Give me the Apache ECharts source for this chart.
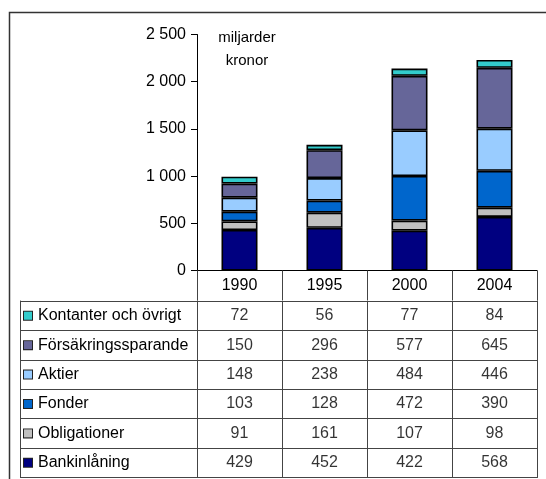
<!DOCTYPE html>
<html>
<head>
<meta charset="utf-8">
<script src="https://cdn.jsdelivr.net/npm/echarts@6/dist/echarts.min.js"></script>
<style>
  html, body { margin: 0; padding: 0; background: #fff; }
  #main { width: 546px; height: 479px; }
</style>
</head>
<body>
<div id="main"></div>
<script>
// data (miljarder kronor)
var years = ['1990', '1995', '2000', '2004'];
var seriesNames = ['Bankinlåning', 'Obligationer', 'Fonder', 'Aktier', 'Försäkringssparande', 'Kontanter och övrigt'];
var bankinlaning = [429, 452, 422, 568];
var obligationer = [91, 161, 107, 98];
var fonder = [103, 128, 472, 390];
var aktier = [148, 238, 484, 446];
var forsakring = [150, 296, 577, 645];
var kontanter = [72, 56, 77, 84];
var yTicks = [0, 500, 1000, 1500, 2000, 2500];

var values = [bankinlaning, obligationer, fonder, aktier, forsakring, kontanter];
var colors = ['#000080', '#C0C0C0', '#0066CC', '#99CCFF', '#666699', '#33CCCC'];
var font = 'Liberation Sans';
var lineCol = '#444';

var chart = echarts.init(document.getElementById('main'));

// rich styles for the little colour keys in the table
var rich = { t: { fontSize: 16, fontFamily: font, color: '#000', padding: [0, 0, 0, 6] } };
colors.forEach(function (c, i) {
  rich['s' + i] = { width: 8, height: 8, backgroundColor: c, borderColor: '#222', borderWidth: 1 };
});

var barSeries = seriesNames.map(function (name, i) {
  return {
    name: name,
    type: 'bar',
    stack: 'total',
    xAxisIndex: 0,
    yAxisIndex: 0,
    barWidth: 36,
    data: values[i],
    itemStyle: { color: colors[i], borderColor: '#000', borderWidth: 1.6 },
    silent: true
  };
});

var cells = [];
seriesNames.forEach(function (name, i) {
  years.forEach(function (y, j) {
    cells.push([y, name, values[i][j]]);
  });
});

var option = {
  animation: false,
  backgroundColor: '#fff',
  textStyle: { fontFamily: font },
  graphic: [{
    type: 'rect',
    shape: { x: 9.5, y: 12.5, width: 600, height: 600 },
    style: { fill: 'none', stroke: '#333', lineWidth: 1.5 },
    silent: true
  }],
  title: {
    text: 'miljarder\nkronor',
    left: 247,
    top: 26.5,
    padding: 0,
    textAlign: 'center',
    textStyle: { fontSize: 15, fontWeight: 'normal', color: '#000', fontFamily: font, lineHeight: 23 }
  },
  grid: [
    { left: 197, right: 9, top: 34.5, bottom: 208.5 },
    { left: 197, right: 9, top: 301, bottom: 1.5 }
  ],
  xAxis: [
    {
      type: 'category',
      gridIndex: 0,
      data: years,
      axisLine: { lineStyle: { color: '#000', width: 1 } },
      axisTick: { show: true, length: 30, lineStyle: { color: lineCol } },
      axisLabel: { margin: 7, fontSize: 16, color: '#000', fontFamily: font }
    },
    {
      type: 'category',
      gridIndex: 1,
      data: years,
      axisLine: { show: false },
      axisTick: { show: false },
      axisLabel: { show: false },
      splitLine: { show: true, lineStyle: { color: lineCol, width: 1 } }
    }
  ],
  yAxis: [
    {
      type: 'value',
      gridIndex: 0,
      min: yTicks[0],
      max: yTicks[yTicks.length - 1],
      interval: 500,
      axisLine: { show: true, lineStyle: { color: '#000', width: 1 } },
      axisTick: { show: true, length: 6, lineStyle: { color: '#000' } },
      splitLine: { show: false },
      axisLabel: {
        margin: 11,
        fontSize: 16,
        color: '#000',
        fontFamily: font,
        formatter: function (v) { return String(v).replace(/\B(?=(\d{3})+(?!\d))/g, ' '); }
      }
    },
    {
      type: 'category',
      gridIndex: 1,
      data: seriesNames,
      axisLine: { show: true, lineStyle: { color: lineCol, width: 1 } },
      axisTick: { show: true, length: 177, lineStyle: { color: lineCol } },
      splitLine: { show: true, lineStyle: { color: lineCol, width: 1 } },
      axisLabel: {
        align: 'left',
        margin: 173,
        formatter: function (v) {
          return '{s' + seriesNames.indexOf(v) + '|}{t|' + v + '}';
        },
        rich: rich
      }
    },
    {
      type: 'category',
      gridIndex: 1,
      position: 'left',
      offset: 177,
      data: seriesNames,
      axisLine: { show: true, lineStyle: { color: lineCol, width: 1 } },
      axisTick: { show: false },
      axisLabel: { show: false }
    },
    {
      type: 'category',
      gridIndex: 1,
      position: 'right',
      data: seriesNames,
      axisLine: { show: true, lineStyle: { color: lineCol, width: 1 } },
      axisTick: { show: false },
      axisLabel: { show: false }
    }
  ],
  series: barSeries.concat([{
    type: 'scatter',
    xAxisIndex: 1,
    yAxisIndex: 1,
    symbolSize: 1,
    itemStyle: { color: 'rgba(0,0,0,0)' },
    silent: true,
    data: cells,
    label: {
      show: true,
      position: 'inside',
      fontSize: 16,
      color: '#000',
      fontFamily: font,
      formatter: function (p) { return p.value[2]; }
    }
  }])
};

chart.setOption(option);
</script>
</body>
</html>
